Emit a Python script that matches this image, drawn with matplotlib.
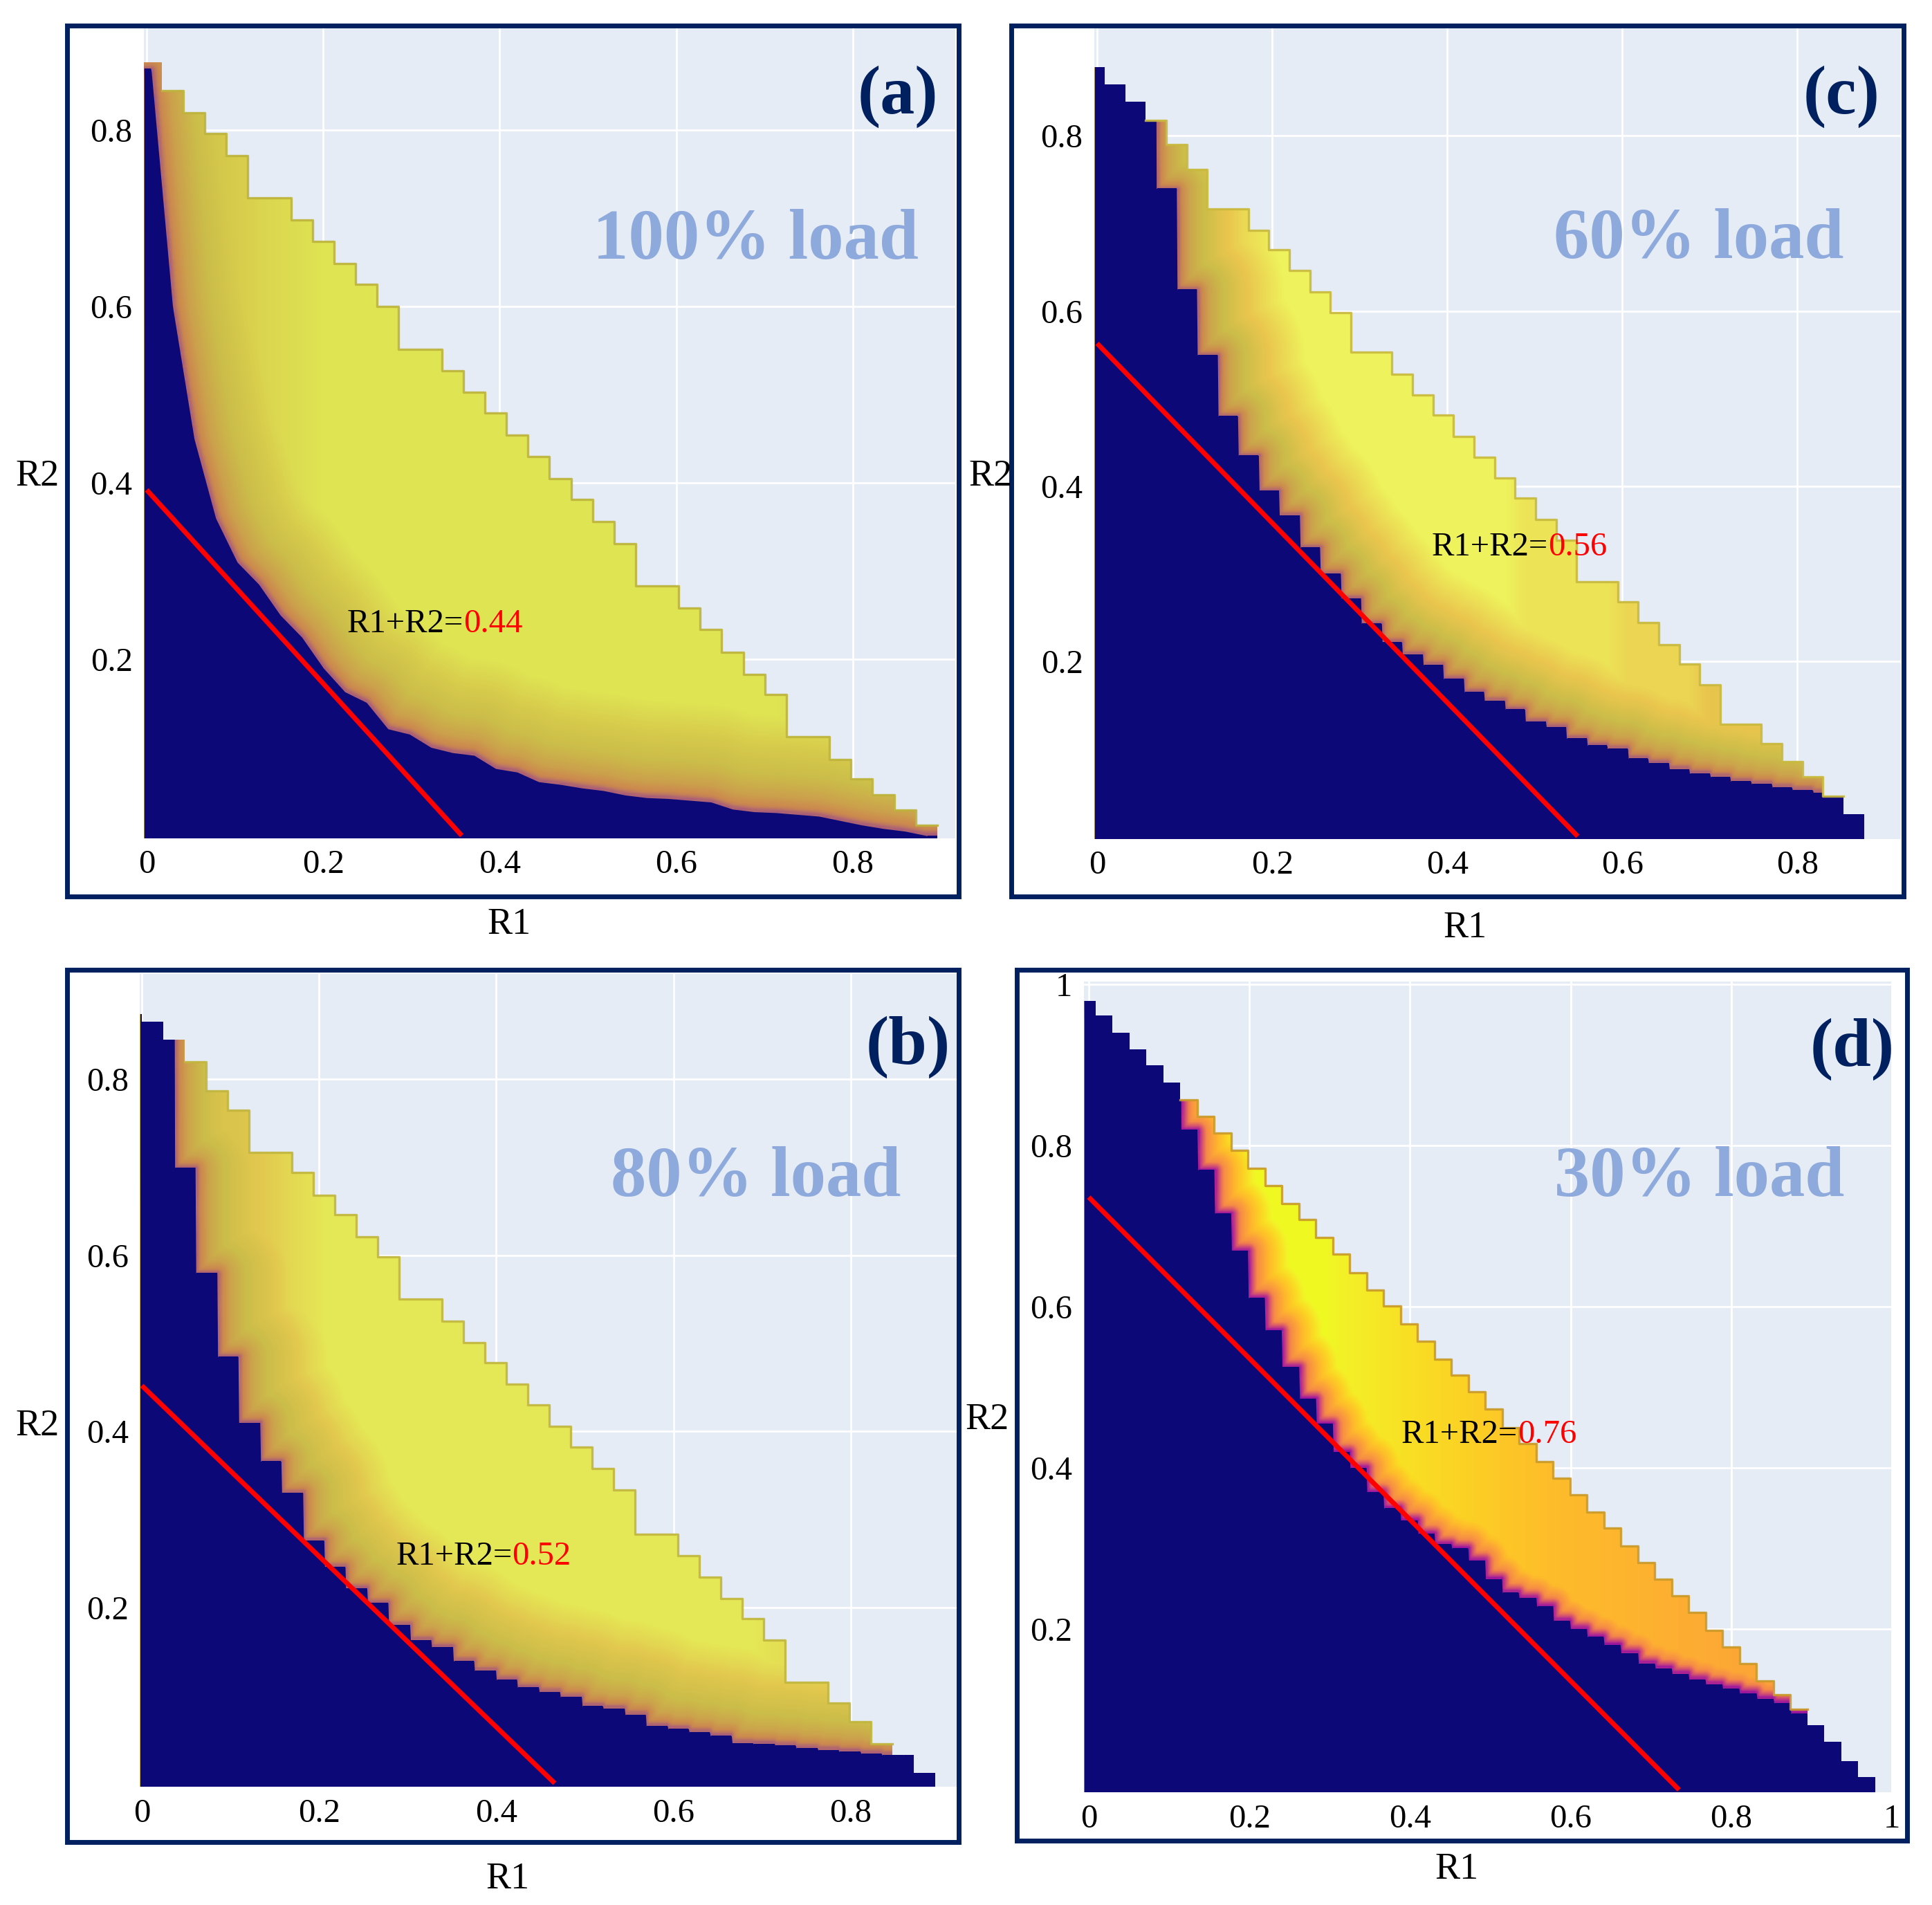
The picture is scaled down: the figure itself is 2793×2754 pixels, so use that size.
import numpy as np
import matplotlib
matplotlib.use('Agg')
import matplotlib.pyplot as plt
from matplotlib.colors import LinearSegmentedColormap
from matplotlib.patches import Polygon, Rectangle

plt.rcParams['font.family'] = ['Liberation Serif', 'DejaVu Serif']

W, H = 2793, 2754
NAVY = '#0d0878'
FRAME = '#002060'
LOAD_COL = '#8eaadc'

# ---------------- data ----------------
# each panel: staircase grid (first cell edge, cell width), upper limit of the
# coloured region per R1 cell, top of the dark (zero) region per cell,
# peak colour level per cell, and the R1+R2 line
a_edge0, a_step = -0.0072, 0.0244
a_top = [0.877, 0.845, 0.820, 0.796, 0.771, 0.723, 0.723, 0.698, 0.674, 0.649,
         0.625, 0.600, 0.551, 0.551, 0.527, 0.503, 0.479, 0.454, 0.430, 0.405,
         0.381, 0.356, 0.331, 0.283, 0.283, 0.258, 0.234, 0.208, 0.183, 0.160,
         0.112, 0.112, 0.086, 0.064, 0.046, 0.029, 0.012]
a_navy = [0.870, 0.600, 0.450, 0.360, 0.310, 0.285, 0.250, 0.225, 0.190, 0.163,
          0.151, 0.121, 0.115, 0.100, 0.094, 0.091, 0.076, 0.072, 0.061, 0.058,
          0.054, 0.051, 0.046, 0.043, 0.042, 0.040, 0.038, 0.030, 0.027, 0.026,
          0.024, 0.022, 0.017, 0.012, 0.008, 0.005, 0.000]
a_core = [0.85] * 4 + [0.88, 0.92, 0.95, 0.97] + [1.0] * 22 + \
         [0.97, 0.95, 0.92, 0.90, 0.86, 0.80, 0.75]
a_fringe_d = [0, 0.005, 0.018, 0.04, 0.07, 0.11]
a_fringe_v = [0.46, 0.58, 0.68, 0.77, 0.86, 1.0]
a_yellow_cols = (1, 36)
a_line = (0.392, 0.357)
a_sum = '0.44'
a_load = '100% load'

b_edge0, b_step = -0.0239, 0.0242
b_top = [0.874, 0.866, 0.845, 0.820, 0.787, 0.765, 0.717, 0.717, 0.694, 0.668,
         0.646, 0.621, 0.598, 0.550, 0.550, 0.525, 0.501, 0.478, 0.454, 0.430,
         0.406, 0.382, 0.358, 0.333, 0.283, 0.283, 0.259, 0.234, 0.210, 0.187,
         0.163, 0.115, 0.115, 0.091, 0.070, 0.045, 0.032, 0.012]
b_navy = [1, 1, 0.700, 0.580, 0.485, 0.410, 0.366, 0.330, 0.276, 0.246,
          0.222, 0.205, 0.180, 0.163, 0.155, 0.139, 0.128, 0.118, 0.109, 0.104,
          0.098, 0.088, 0.085, 0.078, 0.065, 0.062, 0.058, 0.054, 0.046, 0.045,
          0.043, 0.040, 0.038, 0.036, 0.034, 0.032, 1, 1]
b_core = [0.85] * 6 + [0.88, 0.92, 0.96] + [1.0] * 21 + \
         [0.97, 0.95, 0.92, 0.88, 0.85, 0.80, 0.78, 0.78]
b_fringe_d = [0, 0.004, 0.014, 0.032, 0.06, 0.10]
b_fringe_v = [0.46, 0.58, 0.69, 0.78, 0.86, 1.0]
b_yellow_cols = (3, 35)
b_line = (0.452, 0.466)
b_sum = '0.52'
b_load = '80% load'

c_edge0, c_step = -0.0147, 0.02344
c_top = [0.879, 0.859, 0.839, 0.818, 0.790, 0.762, 0.717, 0.717, 0.692, 0.670,
         0.646, 0.622, 0.598, 0.553, 0.553, 0.528, 0.504, 0.481, 0.457, 0.433,
         0.409, 0.386, 0.362, 0.338, 0.291, 0.291, 0.268, 0.244, 0.219, 0.197,
         0.173, 0.128, 0.128, 0.106, 0.085, 0.068, 0.046, 0.025]
c_navy = [1, 1, 1, 0.740, 0.625, 0.550, 0.480, 0.435, 0.395, 0.367,
          0.330, 0.300, 0.272, 0.243, 0.222, 0.208, 0.196, 0.180, 0.165, 0.155,
          0.145, 0.131, 0.125, 0.112, 0.104, 0.100, 0.089, 0.084, 0.077, 0.072,
          0.068, 0.063, 0.060, 0.056, 0.053, 0.050, 1, 1]
c_core = [0.85] * 6 + [0.88, 0.92, 0.96] + [1.0] * 12 + [0.96] * 5 + \
         [0.92] * 4 + [0.87] * 4 + [0.80] * 4
c_fringe_d = [0, 0.004, 0.013, 0.03, 0.055, 0.10]
c_fringe_v = [0.46, 0.58, 0.69, 0.78, 0.87, 1.0]
c_yellow_cols = (3, 36)
c_line = (0.563, 0.549)
c_sum = '0.56'
c_load = '60% load'

d_edge0, d_step = -0.0126, 0.0211
d_top = [0.980, 0.962, 0.940, 0.920, 0.900, 0.878, 0.857, 0.836, 0.816, 0.794,
         0.772, 0.750, 0.728, 0.708, 0.686, 0.665, 0.642, 0.621, 0.601, 0.579,
         0.557, 0.535, 0.515, 0.494, 0.473, 0.450, 0.430, 0.408, 0.387, 0.366,
         0.345, 0.325, 0.303, 0.282, 0.262, 0.241, 0.220, 0.198, 0.177, 0.157,
         0.135, 0.118, 0.100, 0.080, 0.060, 0.036, 0.016]
d_navy = [1, 1, 1, 1, 1, 1, 0.820, 0.770, 0.716, 0.670,
          0.611, 0.571, 0.525, 0.486, 0.455, 0.420, 0.400, 0.370, 0.350, 0.335,
          0.318, 0.305, 0.300, 0.285, 0.262, 0.245, 0.238, 0.228, 0.210, 0.200,
          0.190, 0.180, 0.170, 0.157, 0.151, 0.144, 0.137, 0.131, 0.126, 0.120,
          0.113, 0.108, 0.095, 1, 1, 1, 1]
d_core = [1.0] * 15 + [0.98, 0.97, 0.96, 0.95, 0.94, 0.93, 0.92, 0.91, 0.90,
                       0.89, 0.88, 0.87, 0.86, 0.855, 0.85] + \
         [0.845, 0.84, 0.835, 0.83, 0.825, 0.82, 0.815, 0.81, 0.805, 0.80,
          0.795, 0.79, 0.785, 0.78, 0.78, 0.78, 0.78]
d_fringe_d = [0, 0.004, 0.01, 0.025, 0.05]
d_fringe_v = [0.30, 0.50, 0.72, 0.85, 1.0]
d_yellow_cols = (6, 42)
d_line = (0.736, 0.735)
d_sum = '0.76'
d_load = '30% load'

# ---------------- colour scales ----------------
def muted(top, gold):
    return LinearSegmentedColormap.from_list('m', [
        (0.0, NAVY), (0.3, '#5c1a8e'), (0.45, '#a45580'), (0.6, '#cc8a4e'),
        (0.78, '#cbbd49'), (0.88, gold), (1.0, top)])

cmap_a = muted('#dfe453', '#d8cc4c')
cmap_b = muted('#e5e856', '#e2c84e')
cmap_c = muted('#eef25c', '#eac64e')
cmap_d = plt.get_cmap('plasma')

panels = [
    dict(name='(a)', edge0=a_edge0, step=a_step, top=a_top, navy=a_navy, core=a_core,
         fd=a_fringe_d, fv=a_fringe_v, ycols=a_yellow_cols, line=a_line, sum=a_sum,
         load=a_load, cmap=cmap_a, mode='linear', outline='#bdb33c',
         rect=[0.07454, 0.55998, 0.41984, 0.42498], xlim=(-0.003, 0.916), ylim=(-0.003, 0.915),
         xt=[0, 0.2, 0.4, 0.6, 0.8], yt=[0.2, 0.4, 0.6, 0.8],
         lab=(0.851, 0.838), lpos=(0.690, 0.674), spos=(0.359, 0.240),
         r2=(54, 689), r1=(736, 1337), frame=(97, 37, 1386, 1296)),
    dict(name='(b)', edge0=b_edge0, step=b_step, top=b_top, navy=b_navy, core=b_core,
         fd=b_fringe_d, fv=b_fringe_v, ycols=b_yellow_cols, line=b_line, sum=b_sum,
         load=b_load, cmap=cmap_b, mode='post', outline='#c1b63e',
         rect=[0.07247, 0.06205, 0.42288, 0.42676], xlim=(-0.002, 0.920), ylim=(-0.004, 0.920),
         xt=[0, 0.2, 0.4, 0.6, 0.8], yt=[0.2, 0.4, 0.6, 0.8],
         lab=(0.865, 0.837), lpos=(0.693, 0.687), spos=(0.418, 0.258),
         r2=(54, 2062), r1=(734, 2717), frame=(97, 1402, 1386, 2663)),
    dict(name='(c)', edge0=c_edge0, step=c_step, top=c_top, navy=c_navy, core=c_core,
         fd=c_fringe_d, fv=c_fringe_v, ycols=c_yellow_cols, line=c_line, sum=c_sum,
         load=c_load, cmap=cmap_c, mode='post', outline='#c8b93e',
         rect=[0.56649, 0.55962, 0.41733, 0.42556], xlim=(-0.003, 0.918), ylim=(-0.003, 0.923),
         xt=[0, 0.2, 0.4, 0.6, 0.8], yt=[0.2, 0.4, 0.6, 0.8],
         lab=(0.850, 0.845), lpos=(0.687, 0.680), spos=(0.515, 0.330),
         r2=(1432, 689), r1=(2118, 1342), frame=(1462, 37, 2752, 1296)),
    dict(name='(d)', edge0=d_edge0, step=d_step, top=d_top, navy=d_navy, core=d_core,
         fd=d_fringe_d, fv=d_fringe_v, ycols=d_yellow_cols, line=d_line, sum=d_sum,
         load=d_load, cmap=cmap_d, mode='mid', outline='#c99a2a',
         rect=[0.56105, 0.05919, 0.41819, 0.42564], xlim=(-0.006, 1.0), ylim=(-0.003, 1.004),
         xt=[0, 0.2, 0.4, 0.6, 0.8, 1], yt=[0.2, 0.4, 0.6, 0.8, 1],
         lab=(0.951, 0.920), lpos=(0.760, 0.759), spos=(0.534, 0.441),
         r2=(1427, 2053), r1=(2106, 2703), frame=(1470, 1402, 2757, 2661)),
]


def navy_profile(p, xs, edges, centres):
    navy = np.array(p['navy'], dtype=float)
    n = len(navy)
    if p['mode'] == 'linear':
        return np.interp(xs, centres, navy)
    shift = p['step'] / 2 if p['mode'] == 'post' else 0.0
    idx = np.clip(np.searchsorted(edges + shift, xs, side='right') - 1, 0, n - 1)
    return navy[idx]


def boundary_points(xs, low):
    # points along the dark-region outline, including its vertical steps
    px, py = [xs], [low]
    for i in np.nonzero(np.abs(np.diff(low)) > 1e-6)[0]:
        ys = np.arange(min(low[i], low[i + 1]), max(low[i], low[i + 1]), 0.003)
        px.append(np.full(ys.size, 0.5 * (xs[i] + xs[i + 1])))
        py.append(ys)
    return np.concatenate(px), np.concatenate(py)


def draw_panel(fig, p):
    ax = fig.add_axes(p['rect'])
    ax.set_facecolor('#e5ecf6')
    top = np.array(p['top'])
    core = np.array(p['core'])
    n = len(top)
    edges = p['edge0'] + p['step'] * np.arange(n + 1)
    centres = edges[:-1] + p['step'] / 2
    x_lo, x_hi = p['xlim']
    y_lo, y_hi = p['ylim']

    # fine outline of the dark region
    xb = np.linspace(x_lo, x_hi, 1200)
    lb = navy_profile(p, xb, edges, centres)
    bx, by = boundary_points(xb, lb)

    # colour level: rises with distance from the dark region up to the cell's peak level
    xg = np.linspace(x_lo, x_hi, 320)
    yg = np.linspace(y_lo, y_hi, 320)
    dist = np.empty((yg.size, xg.size))
    for j, yv in enumerate(yg):
        d2 = (xg[:, None] - bx[None, :]) ** 2 + (yv - by[None, :]) ** 2
        dist[j] = np.sqrt(d2.min(axis=1))
    core_g = np.interp(xg, centres, core)
    val = np.minimum(core_g[None, :], np.interp(dist, p['fd'], p['fv']))

    im = ax.imshow(val, extent=(x_lo, x_hi, y_lo, y_hi), origin='lower',
                   cmap=p['cmap'], vmin=0, vmax=1, interpolation='bilinear',
                   aspect='auto', zorder=1)
    # outer staircase, kept inside the axes box
    sx = np.clip(np.repeat(edges, 2)[1:-1], x_lo, x_hi)
    sy = np.repeat(top, 2)
    e0, e1 = max(edges[0], x_lo), min(edges[-1], x_hi)
    verts = [(e0, y_lo)] + list(zip(sx, sy)) + [(e1, y_lo)]
    im.set_clip_path(Polygon(verts, closed=True, transform=ax.transData))

    dark = ax.fill_between(xb, y_lo, lb, color=NAVY, linewidth=0, zorder=1.5)
    dark.set_clip_path(Polygon(verts, closed=True, transform=ax.transData))

    k0, k1 = p['ycols']
    ox = np.repeat(edges[k0:k1 + 2], 2)[1:-1]
    oy = np.repeat(top[k0:k1 + 1], 2)
    ax.plot(ox, oy, color=p['outline'], lw=2.4, alpha=0.9, zorder=2)

    r2s, r1e = p['line']
    ax.plot([0, r1e], [r2s, 0], color='#ff0000', lw=5, solid_capstyle='butt', zorder=3)

    sx0, sy0 = p['spos']
    ax.text(sx0, sy0, 'R1+R2=', ha='right', va='center', fontsize=35, color='black', zorder=4)
    ax.text(sx0, sy0, p['sum'], ha='left', va='center', fontsize=35, color='#ff0000', zorder=4)
    ax.text(*p['lpos'], p['load'], ha='center', va='center', fontsize=74,
            fontweight='bold', color=LOAD_COL, zorder=4)
    ax.text(*p['lab'], p['name'], ha='center', va='center', fontsize=72,
            fontweight='bold', color=FRAME, zorder=4)

    ax.set_xlim(x_lo, x_hi)
    ax.set_ylim(y_lo, y_hi)
    ax.set_xticks(p['xt'])
    ax.set_xticklabels([f'{t:g}' for t in p['xt']])
    ax.set_yticks(p['yt'])
    ax.set_yticklabels([f'{t:g}' for t in p['yt']])
    ax.tick_params(length=0, pad=12, labelsize=35)
    ax.grid(color='white', linewidth=2)
    ax.set_axisbelow(True)
    for sp in ax.spines.values():
        sp.set_visible(False)

    fig.text(p['r2'][0] / W, 1 - p['r2'][1] / H, 'R2', ha='center', va='center', fontsize=39)
    fig.text(p['r1'][0] / W, 1 - p['r1'][1] / H, 'R1', ha='center', va='center', fontsize=39)
    x0, y0, x1, y1 = p['frame']
    fig.add_artist(Rectangle((x0 / W, 1 - y1 / H), (x1 - x0) / W, (y1 - y0) / H,
                             transform=fig.transFigure, fill=False,
                             edgecolor=FRAME, linewidth=5))


fig = plt.figure(figsize=(W / 100, H / 100), dpi=100)
for p in panels:
    draw_panel(fig, p)
fig.savefig('out.png', dpi=100)
